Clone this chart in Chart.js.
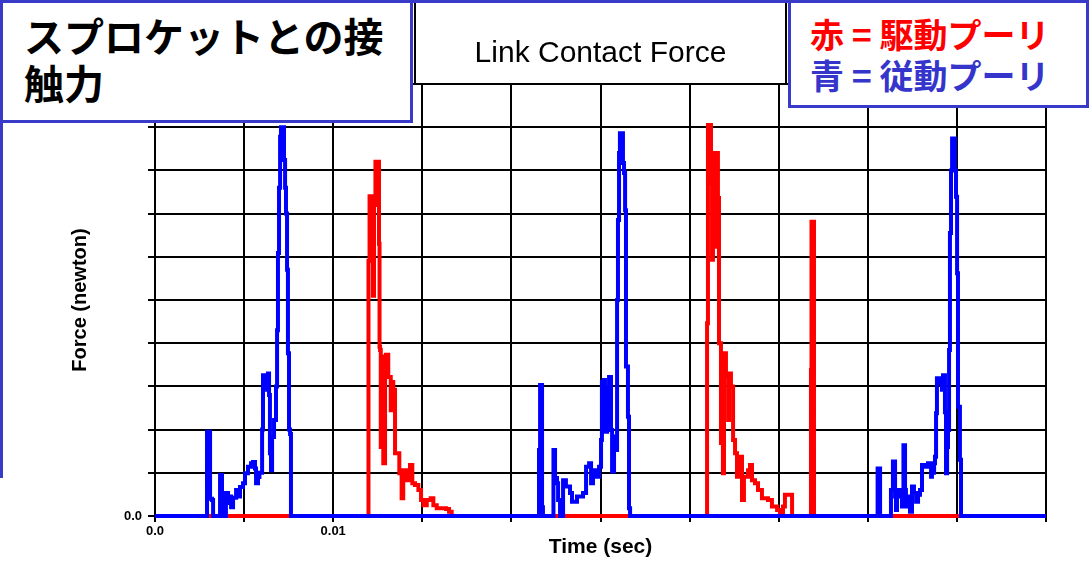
<!DOCTYPE html>
<html>
<head>
<meta charset="utf-8">
<script src="https://cdn.jsdelivr.net/npm/chart.js@4.4.0/dist/chart.umd.min.js"></script>
<style>
  html, body { margin: 0; padding: 0; background: #fff; }
  #wrap { position: relative; width: 1089px; height: 565px; overflow: hidden; background: #fff; }
  #frame { position: absolute; left: 0; top: 0; width: 1089px; height: 478px;
           border-top: 3px solid #3a3ac8; border-left: 3px solid #3a3ac8; box-sizing: border-box; pointer-events: none; }
  canvas { position: absolute; left: 0; top: 0; }
  .box { position: absolute; background: #fff; border: 3px solid #3a3ac8; box-sizing: border-box;
         font-family: "Noto Sans CJK JP", sans-serif; font-weight: bold; }
  #heading { left: 0; top: 0; width: 413px; height: 123px; font-size: 40px; line-height: 47px;
             color: #000; padding: 9px 0 0 21px; }
  #key { left: 788px; top: 0; width: 301px; height: 108px; font-size: 34px; line-height: 41px;
         padding: 10px 0 0 19px; white-space: nowrap; }
  #key .r { color: #ff0000; }
  #key .b { color: #3535cc; }
</style>
</head>
<body>
<div id="wrap">
  <canvas id="c" width="1089" height="565"></canvas>
  <div id="frame"></div>
  <div class="box" id="heading">スプロケットとの接<br>触力</div>
  <div class="box" id="key"><div class="r">赤 = 駆動プーリ</div><div class="b">青 = 従動プーリ</div></div>
</div>
<script>
// Time in milliseconds, force in the plot's relative units
const drivenTime = [0, 2.86, 2.92, 3.03, 3.09, 3.20, 3.26, 3.59, 3.65, 3.73, 3.76, 3.82, 3.87, 3.98, 4.10, 4.21, 4.27, 4.38, 4.55, 4.66, 4.77, 4.94, 5.05, 5.22, 5.39, 5.50, 5.61, 5.67, 5.78, 5.86, 6.01, 6.06, 6.17, 6.23, 6.29, 6.34, 6.40, 6.45, 6.51, 6.57, 6.68, 6.79, 6.85, 6.90, 6.96, 7.02, 7.07, 7.18, 7.24, 7.30, 7.35, 7.41, 7.46, 7.52, 7.58, 7.63,
  21.49, 21.55, 21.61, 21.69, 21.72, 21.77, 22.34, 22.36, 22.45, 22.56, 22.62, 22.73, 22.90, 23.06, 23.29, 23.40, 23.68, 24.02, 24.19, 24.36, 24.47, 24.58, 24.75, 24.92, 25.03, 25.08, 25.20, 25.25, 25.37, 25.48, 25.59, 25.65, 25.76, 25.87, 25.93, 25.98, 26.04, 26.09, 26.21, 26.26, 26.32, 26.38, 26.43, 26.54, 26.60, 26.66,
  40.52, 40.55, 40.63, 40.69, 41.25, 41.30, 41.41, 41.53, 41.58, 41.64, 41.75, 41.81, 41.92, 42.00, 42.09, 42.14, 42.26, 42.37, 42.48, 42.59, 42.71, 42.82, 42.93, 43.04, 43.21, 43.38, 43.55, 43.60, 43.72, 43.77, 43.83, 43.88, 44.05, 44.16, 44.22, 44.33, 44.39, 44.45, 44.50, 44.56, 44.61, 44.67, 44.73, 44.84, 44.89, 44.95, 45.01, 45.06, 45.17, 45.23, 50];
const drivenForce = [0, 0, 1.95, 1.95, 0.4, 0.37, 0, 0, 0.95, 0.95, 0.5, 0.3, 0, 0.53, 0.3, 0.45, 0.2, 0.42, 0.6, 0.45, 0.67, 0.76, 0.99, 1.14, 1.22, 1.25, 1.1, 0.76, 0.9, 1.0, 2.0, 3.26, 3.15, 2.92, 3.26, 3.3, 2.8, 1.45, 1.06, 1.83, 2.22, 3.0, 4.3, 6.09, 7.6, 8.78, 9.0, 9.0, 8.24, 7.6, 7.0, 5.7, 3.77, 2.0, 1.9, 0,
  0, 1.53, 3.03, 3.03, 0.2, 0, 0, 1.53, 0.88, 0.76, 0.37, 0, 0.83, 0.68, 0.53, 0.33, 0.45, 0.53, 1.14, 1.22, 0.76, 1.06, 0.91, 1.14, 1.76, 3.11, 3.15, 1.95, 2.99, 3.22, 1.99, 1.03, 1.84, 1.53, 5.0, 6.85, 8.4, 8.86, 8.86, 8.17, 7.94, 7.08, 3.46, 2.3, 0.18, 0,
  0, 1.1, 1.1, 0, 0, 0.6, 1.26, 0.45, 0.14, 0.6, 0.45, 0.6, 0.22, 1.64, 0.6, 0.22, 0.45, 0.1, 0.68, 0.53, 0.33, 0.49, 0.6, 1.18, 1.14, 1.22, 0.91, 1.0, 1.22, 1.37, 2.38, 3.19, 3.08, 2.92, 3.26, 2.4, 0.99, 1.6, 1.99, 3.84, 6.55, 8.0, 8.74, 8.74, 8.0, 7.39, 5.62, 2.53, 1.3, 0, 0];

const driveTime = [0, 11.93, 11.98, 12.04, 12.18, 12.23, 12.29, 12.37, 12.54, 12.57, 12.60, 12.63, 12.67, 12.74, 12.81, 12.91, 12.96, 13.09, 13.23, 13.28, 13.37, 13.47, 13.56, 13.71, 13.84, 13.93, 14.13, 14.31, 14.44, 14.59, 14.78, 14.93, 15.06, 15.25, 15.47, 15.62, 15.81, 16.09, 16.33, 16.50, 16.65,
  30.95, 30.98, 31.03, 31.15, 31.20, 31.26, 31.31, 31.37, 31.48, 31.54, 31.59, 31.65, 31.76, 31.82, 31.87, 31.93, 32.04, 32.16, 32.21, 32.32, 32.44, 32.55, 32.66, 32.83, 32.94, 33.05, 33.28, 33.39, 33.50, 33.67, 33.84, 34.06, 34.40, 34.62, 34.91, 35.07, 35.24, 35.35, 35.69, 35.75,
  36.79, 36.81, 36.84, 36.93, 36.98, 50];
const driveForce = [0, 0, 5.9, 7.4, 7.4, 5.1, 7.2, 8.2, 8.2, 6.3, 3.92, 3.84, 1.6, 3.69, 1.22, 3.54, 3.73, 3.22, 2.45, 3.1, 2.92, 1.45, 1.45, 0.99, 0.41, 1.06, 0.83, 1.18, 0.76, 0.72, 0.6, 0.37, 0.25, 0.37, 0.41, 0.25, 0.18, 0.18, 0.16, 0.1, 0,
  0, 4.46, 9.05, 9.05, 7.7, 5.93, 8.17, 8.4, 6.23, 8.4, 7.36, 4.0, 1.69, 3.77, 0.99, 3.77, 3.22, 2.22, 3.3, 3.0, 1.76, 1.45, 0.91, 1.37, 0.37, 0.91, 1.06, 1.18, 0.83, 0.76, 0.6, 0.41, 0.37, 0.22, 0.14, 0.07, 0.22, 0.49, 0.49, 0,
  0, 3.38, 6.81, 6.81, 0, 0];

// Only these tick positions carry a label (time axis shown in seconds)
const xTickLabels = { 0: '0.0', 10: '0.01' };
const yTickLabels = { 0: '0.0' };

const toPoints = (t, f) => t.map((x, i) => ({ x: x, y: f[i] }));

// Title above the plot, framed left and right like the plot border
const chartTitle = {
  id: 'chartTitle',
  afterDraw(chart) {
    const { ctx, chartArea } = chart;
    ctx.save();
    ctx.strokeStyle = '#000';
    ctx.lineWidth = 2;
    ctx.beginPath();
    ctx.moveTo(415, 0); ctx.lineTo(415, chartArea.top);
    ctx.moveTo(786, 0); ctx.lineTo(786, chartArea.top);
    ctx.stroke();
    ctx.fillStyle = '#000';
    ctx.font = '30px "Liberation Sans", Arial, sans-serif';
    ctx.textAlign = 'center';
    ctx.textBaseline = 'middle';
    ctx.fillText('Link Contact Force', (chartArea.left + chartArea.right) / 2, 54);
    ctx.restore();
  }
};

const lineStyle = { borderWidth: 4, pointRadius: 0, tension: 0, stepped: 'before', clip: false, borderJoinStyle: 'miter' };

new Chart(document.getElementById('c'), {
  type: 'line',
  data: {
    datasets: [
      Object.assign({ label: '駆動プーリ', data: toPoints(driveTime, driveForce), borderColor: '#ff0000', order: 1 }, lineStyle),
      Object.assign({ label: '従動プーリ', data: toPoints(drivenTime, drivenForce), borderColor: '#0000ff', order: 0 }, lineStyle)
    ]
  },
  options: {
    responsive: false,
    devicePixelRatio: 1,
    animation: false,
    layout: { padding: { top: 84, right: 43, left: 0, bottom: 0 } },
    plugins: { legend: { display: false }, tooltip: { enabled: false } },
    scales: {
      x: {
        type: 'linear', min: 0, max: 50,
        afterFit(s) { s.height = 49; },
        ticks: {
          stepSize: 5, autoSkip: false, maxRotation: 0, padding: 2, color: '#000',
          font: { family: '"Liberation Sans", Arial, sans-serif', size: 13, weight: 'bold' },
          callback: v => (xTickLabels[v] !== undefined ? xTickLabels[v] : '')
        },
        grid: { color: '#000', lineWidth: 2, tickLength: 6 },
        border: { color: '#000', width: 2 },
        title: {
          display: true, text: 'Time (sec)', color: '#000', padding: { top: 0, bottom: 5 },
          font: { family: '"Liberation Sans", Arial, sans-serif', size: 21, weight: 'bold' }
        }
      },
      y: {
        min: 0, max: 10,
        afterFit(s) { s.width = 155; },
        ticks: {
          stepSize: 1, autoSkip: false, padding: 6, color: '#000',
          font: { family: '"Liberation Sans", Arial, sans-serif', size: 13, weight: 'bold' },
          callback: v => (yTickLabels[v] !== undefined ? yTickLabels[v] : '')
        },
        grid: { color: '#000', lineWidth: 2, tickLength: 7 },
        border: { color: '#000', width: 2 },
        title: {
          display: true, text: 'Force (newton)', color: '#000', padding: { top: 68, bottom: 0 },
          font: { family: '"Liberation Sans", Arial, sans-serif', size: 20, weight: 'bold' }
        }
      }
    }
  },
  plugins: [chartTitle]
});
</script>
</body>
</html>
